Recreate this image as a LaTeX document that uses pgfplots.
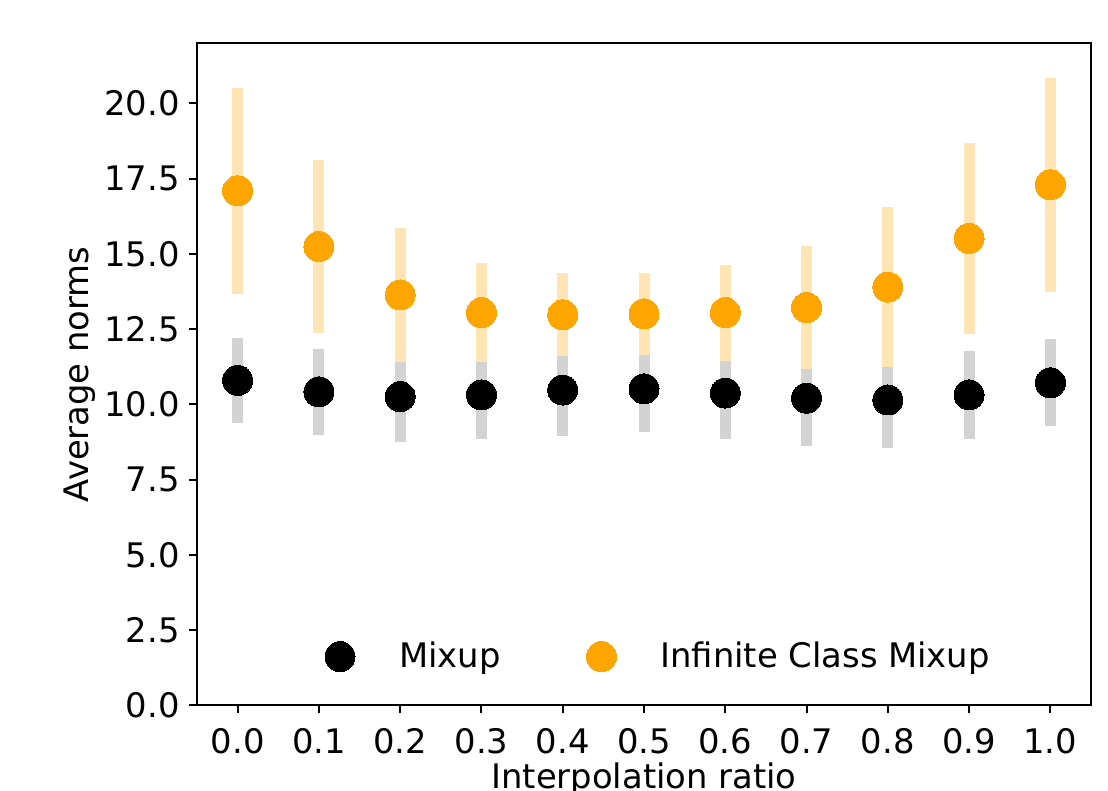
\documentclass[border=0pt]{standalone}
\usepackage{fontspec}
\setmainfont{DejaVu Sans}
\usepackage{pgfplots}
\pgfplotsset{compat=1.18}
\usepackage{pgfplotstable}
\definecolor{mkorange}{RGB}{255,165,0}
\definecolor{errorange}{RGB}{255,228,180}
\definecolor{errgray}{RGB}{211,211,211}
\pgfplotstableread{
x m e
0.0 10.80 1.40
0.1 10.42 1.42
0.2 10.26 1.50
0.3 10.32 1.46
0.4 10.48 1.52
0.5 10.52 1.44
0.6 10.38 1.52
0.7 10.21 1.58
0.8 10.15 1.58
0.9 10.32 1.45
1.0 10.72 1.45
}\mixup
\pgfplotstableread{
x m e
0.0 17.10 3.42
0.1 15.25 2.87
0.2 13.64 2.22
0.3 13.05 1.65
0.4 12.98 1.38
0.5 13.01 1.37
0.6 13.05 1.60
0.7 13.22 2.03
0.8 13.90 2.65
0.9 15.52 3.18
1.0 17.30 3.55
}\icm
\begin{document}
\begin{tikzpicture}[font=\fontsize{16.9}{20.3}\selectfont]
\begin{axis}[
  at={(0,0)}, anchor=south west,
  scale only axis, width=447pt, height=331.1pt,
  xmin=-0.05, xmax=1.05, ymin=0, ymax=22,
  xtick={0,0.1,0.2,0.3,0.4,0.5,0.6,0.7,0.8,0.9,1.0},
  ytick={0,2.5,5,7.5,10,12.5,15,17.5,20},
  /pgf/number format/.cd, fixed, fixed zerofill, precision=1, assume math mode=true,
  /pgfplots/.cd,
  tick pos=left, tick align=outside, major tick length=4pt,
  tick style={black, line width=1pt},
  axis line style={line width=1pt},
  xticklabel style={anchor=north, inner sep=0pt, yshift=-7.25pt},
  yticklabel style={anchor=east, inner sep=0pt, xshift=-4.5pt},
  xlabel={Interpolation ratio},
  ylabel={Average norms},
  every axis x label/.style={at={(axis description cs:0.5,0)}, anchor=north, inner sep=0pt, yshift=-28.25pt},
  every axis y label/.style={at={(axis description cs:0,0.5)}, xshift=-54pt, rotate=90, anchor=base, inner sep=0pt},
  legend columns=2,
  legend style={draw=none, fill=none, inner sep=0pt, outer sep=0pt,
    at={(axis description cs:0.1432,0.0738)}, anchor=west,
    font=\fontsize{16.9}{20.3}\selectfont,
    nodes={inner sep=0pt},
    /tikz/every odd column/.append style={column sep=22pt},
    /tikz/every even column/.append style={column sep=43pt}},
  legend image code/.code={\draw[#1] plot coordinates {(0pt,0pt)};},
]
\addplot[forget plot, draw=none, mark=none,
  error bars/.cd, y dir=both, y explicit, error mark=none,
  error bar style={line width=5.5pt, draw=errgray, solid}]
  table[x=x, y=m, y error=e] {\mixup};
\addplot[only marks, mark=*, mark size=7.5pt, mark options={fill=black, draw=black, line width=0pt}]
  table[x=x, y=m] {\mixup};
\addlegendentry{Mixup}
\addplot[forget plot, draw=none, mark=none,
  error bars/.cd, y dir=both, y explicit, error mark=none,
  error bar style={line width=5.5pt, draw=errorange, solid}]
  table[x=x, y=m, y error=e] {\icm};
\addplot[only marks, mark=*, mark size=7.5pt, mark options={fill=mkorange, draw=mkorange, line width=0pt}]
  table[x=x, y=m] {\icm};
\addlegendentry{Infinite Class Mixup}
\end{axis}
\pgfresetboundingbox
\path[use as bounding box] (-98.5pt,-42.75pt) rectangle (455.5pt,352.75pt);
\end{tikzpicture}
\end{document}
